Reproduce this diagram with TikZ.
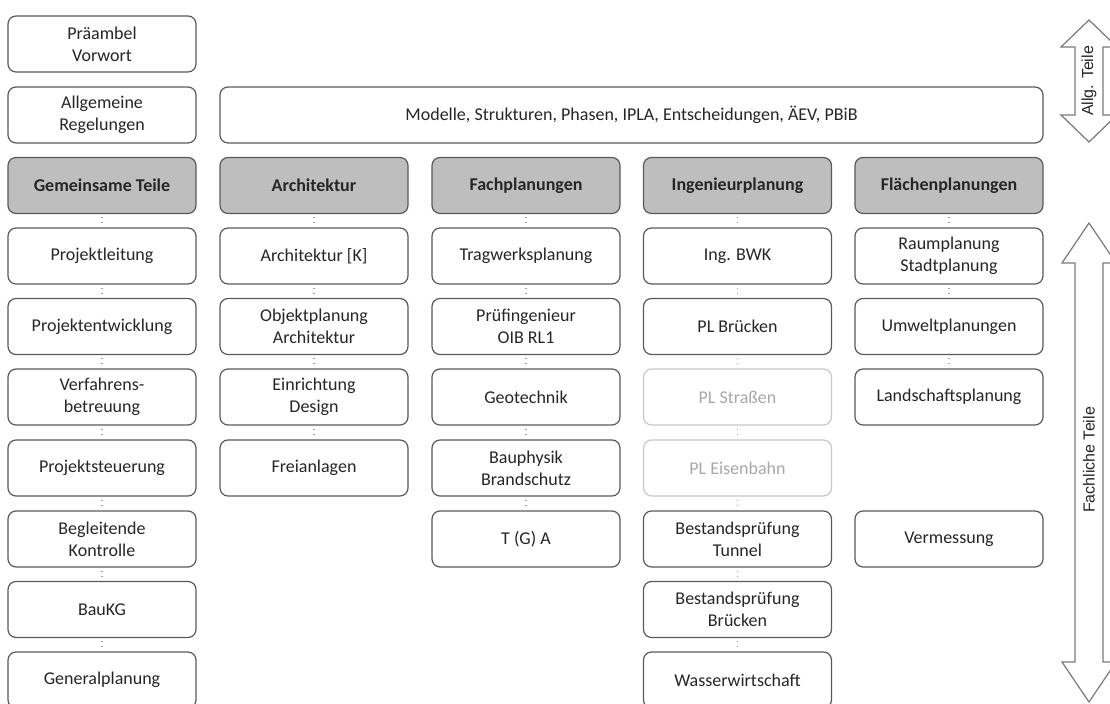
\documentclass[tikz,border=0pt]{standalone}
\usepackage{fontspec}
\setmainfont{Carlito}
\newfontfamily\arialfont{Liberation Sans}
\definecolor{boxline}{HTML}{5A5A5A}
\definecolor{headfill}{HTML}{BEBEBE}
\definecolor{textc}{HTML}{262626}
\definecolor{faintline}{HTML}{C8C8C8}
\definecolor{fainttext}{HTML}{A8A8A8}
\definecolor{dotc}{HTML}{A0A0A0}
\definecolor{arrowline}{HTML}{7A7A7A}
\begin{document}
\begin{tikzpicture}[x=0.5pt,y=-0.5pt,
  box/.style={draw=boxline, fill=white, rounded corners=4pt, line width=0.6pt,
    minimum width=94pt, minimum height=28pt, align=center,
    font=\fontsize{9}{11}\selectfont, text=textc, inner sep=0pt},
  headbox/.style={box, fill=headfill, font=\fontsize{9}{11}\selectfont\bfseries},
  faintbox/.style={box, draw=faintline, text=fainttext},
  dots/.style={draw=dotc, dotted, line width=0.6pt},
  bigarrow/.style={draw=arrowline, fill=white, line width=0.6pt},
  arrowtext/.style={font=\arialfont\fontsize{8}{9}\selectfont, text=textc, rotate=90}]
\useasboundingbox (0,0) rectangle (1110,704);
\clip (0,0) rectangle (1110,704);

% top rows
\node[box] (pre) at (102,44) {Präambel\\Vorwort};
\node[box] (allg) at (102,115) {Allgemeine\\Regelungen};
\node[box, minimum width=411.5pt] (mod) at (631.5,115) {Modelle, Strukturen, Phasen, IPLA, Entscheidungen, ÄEV, PBiB};

% headers
\node[headbox] (h1) at (102,185.5) {Gemeinsame Teile};
\node[headbox] (h2) at (314,185.5) {Architektur};
\node[headbox] (h3) at (526,185.5) {Fachplanungen};
\node[headbox] (h4) at (737.5,185.5) {Ingenieurplanung};
\node[headbox] (h5) at (949,185.5) {Flächenplanungen};

% column 1
\node[box] (a1) at (102,256) {Projektleitung};
\node[box] (a2) at (102,326.5) {Projektentwicklung};
\node[box] (a3) at (102,397) {Verfahrens-\\betreuung};
\node[box] (a4) at (102,468) {Projektsteuerung};
\node[box] (a5) at (102,539) {Begleitende\\Kontrolle};
\node[box] (a6) at (102,609.5) {BauKG};
\node[box] (a7) at (102,680) {Generalplanung};

% column 2
\node[box] (b1) at (314,256) {Architektur [K]};
\node[box] (b2) at (314,326.5) {Objektplanung\\Architektur};
\node[box] (b3) at (314,397) {Einrichtung\\Design};
\node[box] (b4) at (314,468) {Freianlagen};

% column 3
\node[box] (c1) at (526,256) {Tragwerksplanung};
\node[box] (c2) at (526,326.5) {Prüfingenieur\\OIB RL1};
\node[box] (c3) at (526,397) {Geotechnik};
\node[box] (c4) at (526,468) {Bauphysik\\Brandschutz};
\node[box] (c5) at (526,539) {T (G) A};

% column 4
\node[box] (d1) at (737.5,256) {Ing. BWK};
\node[box] (d2) at (737.5,326.5) {PL Brücken};
\node[faintbox] (d3) at (737.5,397) {PL Straßen};
\node[faintbox] (d4) at (737.5,468) {PL Eisenbahn};
\node[box] (d5) at (737.5,539) {Bestandsprüfung\\Tunnel};
\node[box] (d6) at (737.5,609.5) {Bestandsprüfung\\Brücken};
\node[box] (d7) at (737.5,680) {Wasserwirtschaft};

% column 5
\node[box] (e1) at (949,256) {Raumplanung\\Stadtplanung};
\node[box] (e2) at (949,326.5) {Umweltplanungen};
\node[box] (e3) at (949,397) {Landschaftsplanung};
\node[box] (e5) at (949,539) {Vermessung};

% dotted connectors
\foreach \u/\v in {h1/a1,a1/a2,a2/a3,a3/a4,a4/a5,a5/a6,a6/a7,
                   h2/b1,b1/b2,b2/b3,b3/b4,
                   h3/c1,c1/c2,c2/c3,c3/c4,c4/c5,
                   h4/d1,d1/d2,d2/d3,d3/d4,d4/d5,d5/d6,d6/d7,
                   h5/e1,e1/e2,e2/e3}
  \draw[dots] ([yshift=-1.5pt]\u.south) -- ([yshift=1.5pt]\v.north);

% side arrows
\draw[bigarrow] (1089,20) -- (1117,47) -- (1103,47) -- (1103,115) -- (1117,115)
  -- (1089,142) -- (1061,115) -- (1075,115) -- (1075,47) -- (1061,47) -- cycle;
\node[arrowtext] (allgt) at (1089,81) {Allg. Teile};

\draw[bigarrow] (1089,223) -- (1116,263) -- (1103,263) -- (1103,662) -- (1116,662)
  -- (1089,702) -- (1062,662) -- (1075,662) -- (1075,263) -- (1062,263) -- cycle;
\node[arrowtext] (facht) at (1089,460) {Fachliche Teile};
\end{tikzpicture}
\end{document}
